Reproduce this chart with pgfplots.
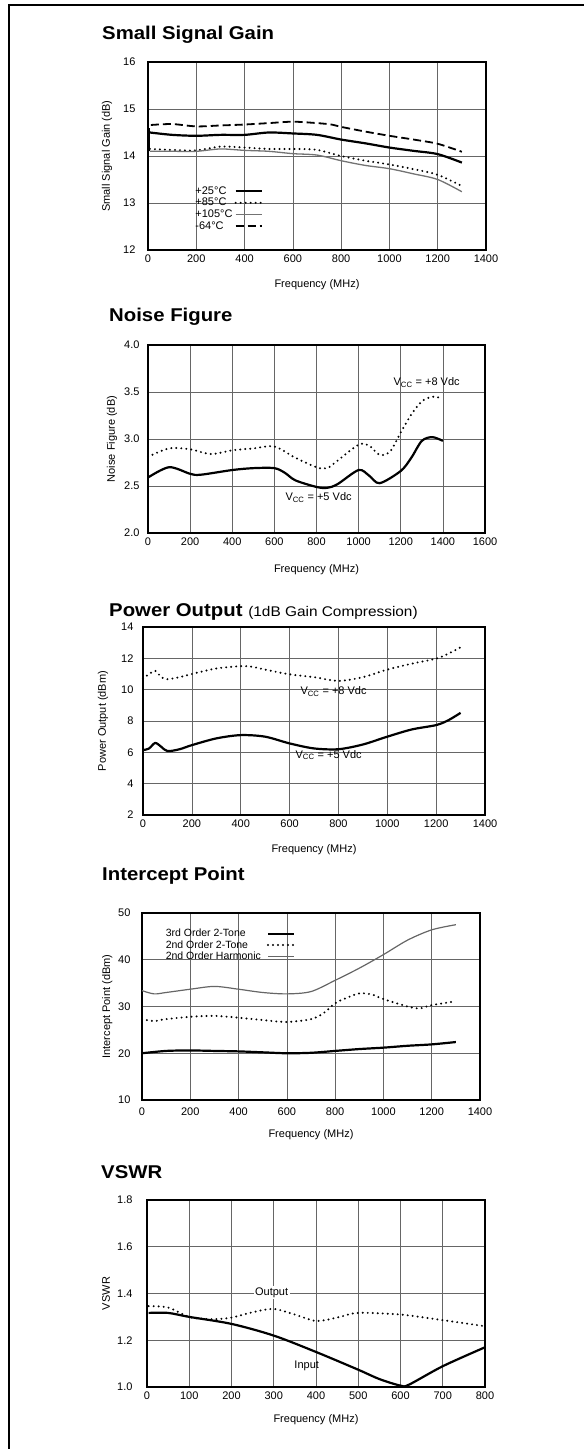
\documentclass[border=0pt]{standalone}
\usepackage{fontspec}
\setmainfont{Liberation Sans}
\newfontfamily\titlefont[FakeStretch=1.1]{Liberation Sans}
\usepackage{pgfplots}
\pgfplotsset{compat=1.18}

\pgfplotsset{
  panel/.style={
    scale only axis,
    axis line style={line width=1.3pt},
    grid=major,
    major grid style={black!60, line width=0.6pt},
    tick style={draw=none},
    ticklabel style={font=\fontsize{11}{13}\selectfont},
    label style={font=\fontsize{11}{13}\selectfont},
    /pgf/number format/assume math mode=true,
    /pgf/number format/1000 sep={},
    xlabel={Frequency (MHz)},
    xlabel style={at={(axis description cs:0.5,-0.186)}, anchor=center},
    xticklabel style={yshift=-1.5pt},
    clip=false,
  },
  solidc/.style={black, line width=2.2pt, smooth},
  dotc/.style={black, line width=2.2pt, line cap=round, dash pattern=on 0pt off 5pt, smooth},
  dashc/.style={black, line width=1.8pt, dash pattern=on 8pt off 4pt, smooth},
  grayc/.style={black!55, line width=1.3pt, smooth},
  limg/.style={legend image code/.code={\draw[##1] (0pt,0pt) -- (26pt,0pt);}},
}

\begin{document}
\begin{tikzpicture}
\useasboundingbox (0pt,0pt) rectangle (584pt,-1449pt);
\draw[line width=2.2pt] (9.3pt,-1449pt) -- (9.3pt,-4.7pt) -- (584pt,-4.7pt);

% ---------------- Titles
\node[anchor=west, inner sep=0pt] at (102pt,-35pt) {\titlefont\bfseries\fontsize{18.5}{20}\selectfont Small Signal Gain};
\node[anchor=west, inner sep=0pt] at (109pt,-317pt) {\titlefont\bfseries\fontsize{18.5}{20}\selectfont Noise Figure};
\node[anchor=west, inner sep=0pt] at (109pt,-612pt) {\titlefont\fontsize{18.5}{20}\selectfont\textbf{Power Output} {\fontsize{14}{16}\selectfont(1dB Gain Compression)}};
\node[anchor=west, inner sep=0pt] at (102pt,-876pt) {\titlefont\bfseries\fontsize{18.5}{20}\selectfont Intercept Point};
\node[anchor=west, inner sep=0pt] at (101pt,-1172pt) {\titlefont\bfseries\fontsize{18.5}{20}\selectfont VSWR};

% ---------------- Panel 1: Small Signal Gain
\begin{axis}[panel, at={(148pt,-250pt)}, anchor=south west,
  width=338pt, height=188pt,
  xmin=0, xmax=1400, ymin=12, ymax=16,
  xtick={0,200,...,1400}, ytick={12,13,14,15,16},
  yticklabel style={xshift=-9pt},
  ylabel={Small Signal Gain (dB)},
  ylabel style={at={(axis description cs:-0.121,0.5)}, anchor=center},
  limg,
  legend plot pos=right, legend cell align=left,
  legend style={at={(axis description cs:0.125,0.36)}, anchor=north west,
    draw=none, fill=none, font=\fontsize{11}{12}\selectfont, row sep=-1.5pt},
]
\addplot[solidc] coordinates {(8,14.5)(100,14.45)(200,14.43)(300,14.45)(400,14.45)(500,14.5)(600,14.48)(700,14.45)(800,14.35)(900,14.27)(1000,14.18)(1100,14.11)(1200,14.04)(1300,13.86)};
\addlegendentry{+25°C}
\addplot[dotc] coordinates {(8,14.15)(100,14.13)(200,14.12)(300,14.2)(400,14.18)(500,14.15)(600,14.15)(700,14.13)(800,14.0)(900,13.9)(1000,13.82)(1100,13.72)(1200,13.6)(1300,13.36)};
\addlegendentry{+85°C}
\addplot[grayc] coordinates {(8,14.1)(100,14.1)(200,14.1)(300,14.15)(400,14.12)(500,14.1)(600,14.05)(700,14.02)(800,13.9)(900,13.8)(1000,13.73)(1100,13.62)(1200,13.5)(1300,13.24)};
\addlegendentry{+105°C}
\addplot[dashc] coordinates {(12,14.66)(100,14.68)(200,14.63)(300,14.65)(400,14.67)(500,14.7)(600,14.73)(700,14.7)(760,14.67)(800,14.62)(900,14.52)(1000,14.43)(1100,14.35)(1200,14.26)(1300,14.09)};
\addlegendentry{-64°C}
\addplot[forget plot, black, line width=1.5pt] coordinates {(6,14.1)(6,14.6)};
\end{axis}

% ---------------- Panel 2: Noise Figure
\begin{axis}[panel, at={(148pt,-533pt)}, anchor=south west,
  width=337pt, height=188pt,
  xmin=0, xmax=1600, ymin=2, ymax=4,
  xtick={0,200,...,1600}, ytick={2,2.5,3,3.5,4},
  yticklabel style={xshift=-5pt, /pgf/number format/.cd, fixed, fixed zerofill, precision=1},
  ylabel={Noise Figure (dB)},
  xlabel style={at={(axis description cs:0.5,-0.197)}},
  ylabel style={at={(axis description cs:-0.107,0.5)}, anchor=center},
]
\addplot[solidc] coordinates {(0,2.59)(100,2.7)(200,2.63)(250,2.62)(400,2.67)(500,2.69)(600,2.69)(650,2.64)(700,2.56)(800,2.49)(850,2.48)(900,2.52)(1000,2.67)(1050,2.61)(1100,2.53)(1200,2.66)(1250,2.8)(1300,2.98)(1350,3.02)(1400,2.98)};
\addplot[dotc] coordinates {(0,2.81)(100,2.9)(200,2.89)(300,2.84)(400,2.88)(500,2.9)(600,2.92)(700,2.8)(800,2.7)(850,2.69)(900,2.77)(1000,2.94)(1050,2.93)(1100,2.83)(1150,2.87)(1200,3.07)(1250,3.26)(1300,3.4)(1350,3.45)(1400,3.43)};
\node[font=\fontsize{11}{13}\selectfont] at (axis cs:1323,3.6) {V\textsubscript{CC} = +8 Vdc};
\node[font=\fontsize{11}{13}\selectfont] at (axis cs:810,2.38) {V\textsubscript{CC} = +5 Vdc};
\end{axis}

% ---------------- Panel 3: Power Output
\begin{axis}[panel, at={(143pt,-815pt)}, anchor=south west,
  width=342pt, height=188pt,
  xmin=0, xmax=1400, ymin=2, ymax=14,
  xtick={0,200,...,1400}, ytick={2,4,...,14},
  yticklabel style={xshift=-6pt},
  ylabel={Power Output (dBm)},
  ylabel style={at={(axis description cs:-0.117,0.5)}, anchor=center},
]
\addplot[dotc] coordinates {(0,10.7)(25,11.0)(50,11.2)(75,10.8)(100,10.67)(150,10.8)(200,11.0)(300,11.35)(400,11.5)(450,11.45)(500,11.28)(600,10.98)(700,10.8)(800,10.56)(900,10.8)(1000,11.28)(1100,11.66)(1200,11.98)(1250,12.3)(1300,12.7)};
\addplot[solidc] coordinates {(0,6.14)(25,6.25)(50,6.6)(75,6.35)(100,6.08)(150,6.2)(200,6.46)(300,6.89)(400,7.1)(500,7.0)(600,6.57)(700,6.25)(800,6.2)(900,6.5)(1000,7.0)(1100,7.46)(1200,7.74)(1250,8.05)(1300,8.52)};
\node[font=\fontsize{11}{13}\selectfont] at (axis cs:780,9.86) {V\textsubscript{CC} = +8 Vdc};
\node[font=\fontsize{11}{13}\selectfont] at (axis cs:760,5.83) {V\textsubscript{CC} = +5 Vdc};
\end{axis}

% ---------------- Panel 4: Intercept Point
\begin{axis}[panel, at={(142pt,-1100pt)}, anchor=south west,
  width=338pt, height=187pt,
  xmin=0, xmax=1400, ymin=10, ymax=50,
  xtick={0,200,...,1400}, ytick={10,20,...,50},
  xticklabel style={yshift=-3pt},
  yticklabel style={xshift=-8pt},
  ylabel={Intercept Point (dBm)},
  ylabel style={at={(axis description cs:-0.103,0.5)}, anchor=center},
  limg,
  legend plot pos=right, legend cell align=left,
  legend style={at={(axis description cs:0.055,0.935)}, anchor=north west,
    draw=none, fill=none, font=\fontsize{10.5}{11.5}\selectfont, row sep=-2pt,
    /tikz/every odd column/.append style={column sep=4pt}},
]
\addplot[solidc] coordinates {(0,20.0)(100,20.5)(200,20.6)(300,20.5)(400,20.4)(500,20.2)(600,20.0)(700,20.1)(800,20.5)(900,20.9)(1000,21.2)(1100,21.6)(1200,21.9)(1300,22.4)};
\addlegendentry{3rd Order 2-Tone}
\addplot[dotc] coordinates {(0,27.3)(50,26.9)(100,27.3)(200,27.8)(300,28.0)(400,27.6)(500,27.1)(600,26.7)(700,27.3)(750,28.5)(800,30.7)(850,31.9)(900,32.8)(950,32.6)(1000,31.6)(1100,30.0)(1150,29.6)(1200,30.3)(1300,31.1)};
\addlegendentry{2nd Order 2-Tone}
\addplot[black!60, line width=1.2pt, smooth] coordinates {(0,33.4)(50,32.7)(100,33.0)(200,33.7)(300,34.3)(400,33.7)(500,33.0)(600,32.7)(700,33.2)(800,35.6)(900,38.2)(1000,41.1)(1100,44.2)(1200,46.4)(1300,47.5)};
\addlegendentry{2nd Order Harmonic}
\end{axis}

% ---------------- Panel 5: VSWR
\begin{axis}[panel, at={(147pt,-1387pt)}, anchor=south west,
  width=338pt, height=187pt,
  xmin=0, xmax=800, ymin=1, ymax=1.8,
  xtick={0,100,...,800}, ytick={1,1.2,1.4,1.6,1.8},
  yticklabel style={xshift=-11pt, /pgf/number format/.cd, fixed, fixed zerofill, precision=1},
  ylabel={VSWR},
  xlabel style={at={(axis description cs:0.5,-0.176)}},
  ylabel style={at={(axis description cs:-0.121,0.5)}, anchor=center},
]
\addplot[solidc] coordinates {(4,1.317)(50,1.317)(100,1.30)(200,1.27)(300,1.22)(400,1.15)(500,1.074)(550,1.034)(600,1.006)(620,1.01)(700,1.089)(800,1.17)};
\addplot[dotc] coordinates {(4,1.346)(50,1.34)(100,1.30)(150,1.29)(200,1.297)(250,1.32)(300,1.334)(350,1.31)(400,1.283)(450,1.297)(500,1.317)(600,1.31)(700,1.286)(800,1.26)};
\node[font=\fontsize{11}{13}\selectfont, fill=white, inner sep=1.5pt] at (axis cs:295,1.403) {Output};
\node[font=\fontsize{11}{13}\selectfont] at (axis cs:378,1.089) {Input};
\end{axis}
\end{tikzpicture}
\end{document}
